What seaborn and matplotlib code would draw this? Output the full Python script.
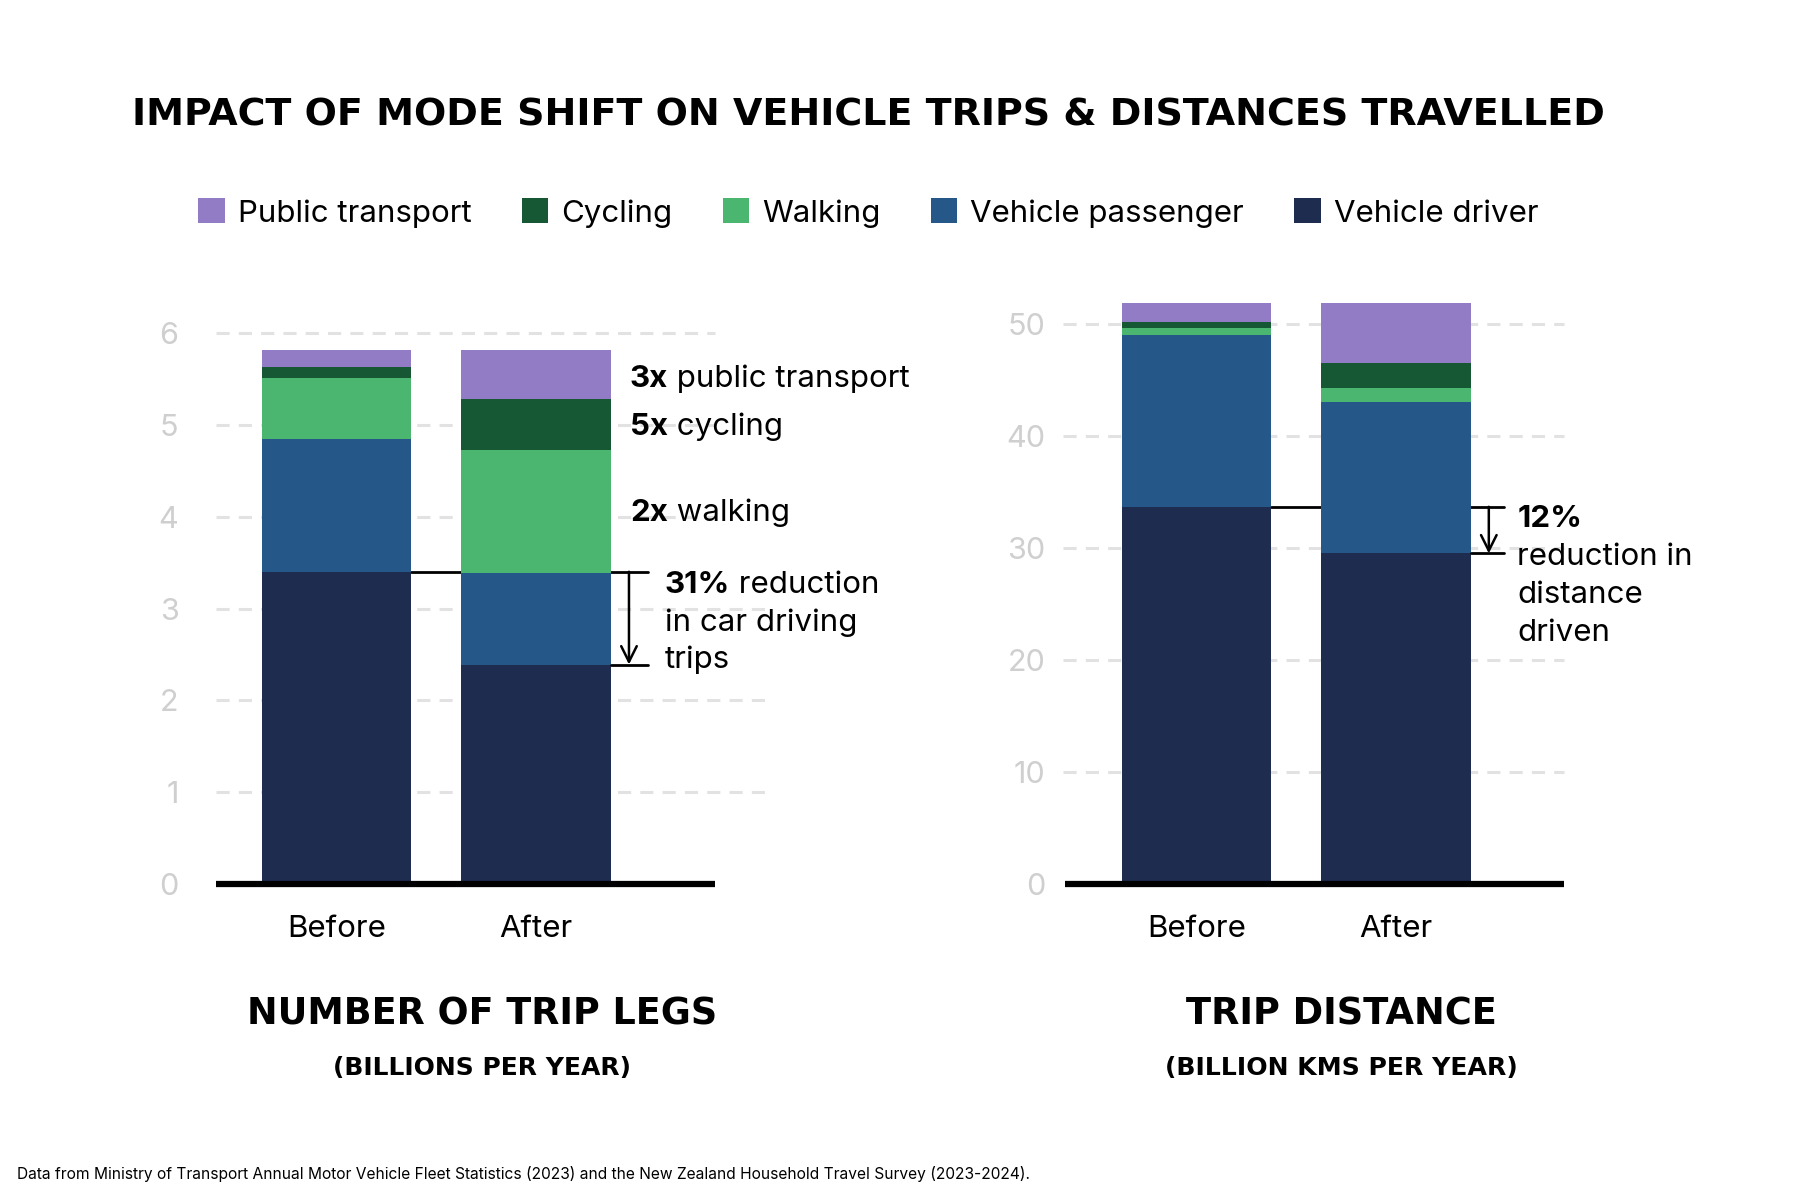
import matplotlib
matplotlib.use("Agg")
import matplotlib.pyplot as plt
import seaborn as sns
import numpy as np
import pandas as pd
from matplotlib.patches import Patch

# ---------------- data ----------------
periods = ["Before", "After"]
modes = ["Public transport", "Cycling", "Walking", "Vehicle passenger", "Vehicle driver"]
mode_colors = ["#927CC6", "#165834", "#4BB66F", "#255789", "#1E2C4F"]

# number of trip legs (billions per year)
trips_driver = [3.40, 2.39]
trips_passenger = [1.445, 1.00]
trips_walking = [0.67, 1.34]
trips_cycling = [0.11, 0.55]
trips_public = [0.185, 0.53]

# trip distance (billion kms per year)
dist_driver = [33.66, 29.5]
dist_passenger = [15.34, 13.55]
dist_walking = [0.65, 1.23]
dist_cycling = [0.49, 2.2]
dist_public = [1.71, 5.35]

left_ticks = [0, 1, 2, 3, 4, 5, 6]
right_ticks = [0, 10, 20, 30, 40, 50]

title_text = "IMPACT OF MODE SHIFT ON VEHICLE TRIPS & DISTANCES TRAVELLED"
left_title = "NUMBER OF TRIP LEGS"
left_sub = "(BILLIONS PER YEAR)"
right_title = "TRIP DISTANCE"
right_sub = "(BILLION KMS PER YEAR)"
footer = ("Data from Ministry of Transport Annual Motor Vehicle Fleet Statistics (2023) "
          "and the New Zealand Household Travel Survey (2023-2024).")

# ---------------- style ----------------
sns.set_theme(style="white")
plt.rcParams["font.family"] = ["Inter", "DejaVu Sans"]
plt.rcParams["axes.unicode_minus"] = False
plt.rcParams["text.color"] = "black"
plt.rcParams["axes.labelcolor"] = "black"

fig = plt.figure(figsize=(18, 12), dpi=100)
fig.patch.set_facecolor("white")

GRID_C = "#e2e2e2"
TICK_C = "#cfcfcf"
TXT = 22.5


def draw_stack(ax, layers_bottom_up, cols_bottom_up):
    cum = np.cumsum(np.array(layers_bottom_up, dtype=float), axis=0)
    for i in range(len(layers_bottom_up) - 1, -1, -1):
        df = pd.DataFrame({"period": periods, "value": cum[i]})
        sns.barplot(data=df, x="period", y="value", color=cols_bottom_up[i],
                    saturation=1, width=0.75, errorbar=None, ax=ax,
                    linewidth=0, edgecolor="none", zorder=2)


def style_axes(ax, ticks, ylim, xlim, pad_y):
    ax.set_xlim(*xlim)
    ax.set_ylim(*ylim)
    ax.set_yticks(ticks)
    ax.set_yticklabels([str(t) for t in ticks])
    for s in ax.spines.values():
        s.set_visible(False)
    ax.tick_params(axis="y", length=0, pad=pad_y, labelsize=22, labelcolor=TICK_C)
    ax.tick_params(axis="x", length=0, pad=22, labelsize=TXT, labelcolor="black")
    ax.set_xlabel("")
    ax.set_ylabel("")
    ax.grid(False)
    ax.set_facecolor("none")


def gridlines(ax, ys, x0, x1):
    ax.hlines(ys, x0, x1, colors=GRID_C, linewidth=2.2,
              linestyles=[(0, (4.3, 3.0))], zorder=1, clip_on=False)


def rich(ax, x, y, bold, rest):
    t = ax.text(x, y, bold, fontsize=TXT, fontweight="bold", ha="left",
                va="center", color="black", zorder=4)
    ax.annotate(rest, xy=(1, 0), xycoords=t, ha="left", va="bottom",
                fontsize=TXT, color="black", zorder=4)
    return t


# ---------------- left chart ----------------
axL = fig.add_axes([0.120, 1 - 884 / 1200, 0.277, (884 - 333) / 1200])
left_layers = [trips_driver, trips_passenger, trips_walking, trips_cycling, trips_public]
left_cols = mode_colors[::-1]
draw_stack(axL, left_layers, left_cols)
style_axes(axL, left_ticks, (0, 6), (-0.603, 1.895), 27)
gridlines(axL, [4, 5, 6], -0.603, 1.895)
gridlines(axL, [1, 2, 3], -0.603, 2.146)
axL.hlines(0, -0.603, 1.895, colors="black", linewidth=4.5, zorder=3, clip_on=False)

# reduction bracket
axL.plot([0.375, 1.563], [trips_driver[0]] * 2, color="black", lw=2, zorder=1.5,
         clip_on=False)
axL.plot([1.375, 1.563], [trips_driver[1]] * 2, color="black", lw=2, zorder=3,
         clip_on=False)
axL.annotate("", xy=(1.466, trips_driver[1]), xytext=(1.466, trips_driver[0]),
             arrowprops=dict(arrowstyle="->", lw=1.8, color="black",
                             mutation_scale=28, shrinkA=0, shrinkB=0),
             zorder=3, annotation_clip=False)

rich(axL, 1.471, 5.50, "3x", " public transport")
rich(axL, 1.471, 4.975, "5x", " cycling")
rich(axL, 1.471, 4.04, "2x", " walking")
rich(axL, 1.644, 3.26, "31%", " reduction")
axL.text(1.644, 2.85, "in car driving", fontsize=TXT, ha="left", va="center", zorder=4)
axL.text(1.644, 2.44, "trips", fontsize=TXT, ha="left", va="center", zorder=4)

# ---------------- right chart ----------------
axR = fig.add_axes([0.5917, 1 - 884 / 1200, 0.2772, (884 - 301.3) / 1200])
right_layers = [dist_driver, dist_passenger, dist_walking, dist_cycling, dist_public]
draw_stack(axR, right_layers, left_cols)
style_axes(axR, right_ticks, (0, 52), (-0.658, 1.843), 14)
gridlines(axR, [10, 20, 30, 40, 50], -0.67, 1.843)
axR.hlines(0, -0.658, 1.843, colors="black", linewidth=4.5, zorder=3, clip_on=False)

axR.plot([0.375, 1.540], [dist_driver[0]] * 2, color="black", lw=2, zorder=1.5,
         clip_on=False)
axR.plot([1.375, 1.540], [dist_driver[1]] * 2, color="black", lw=2, zorder=3,
         clip_on=False)
axR.annotate("", xy=(1.466, dist_driver[1]), xytext=(1.466, dist_driver[0]),
             arrowprops=dict(arrowstyle="->", lw=1.8, color="black",
                             mutation_scale=28, shrinkA=0, shrinkB=0),
             zorder=3, annotation_clip=False)
axR.text(1.609, 32.6, "12%", fontsize=TXT, fontweight="bold", ha="left", va="center")
axR.text(1.609, 29.2, "reduction in", fontsize=TXT, ha="left", va="center")
axR.text(1.609, 25.8, "distance", fontsize=TXT, ha="left", va="center")
axR.text(1.609, 22.4, "driven", fontsize=TXT, ha="left", va="center")

# ---------------- legend ----------------
handles = [Patch(facecolor=c, edgecolor="none") for c in mode_colors]
leg = fig.legend(handles, modes, loc="center", bbox_to_anchor=(0.4825, 1 - 213 / 1200),
                 ncol=5, frameon=False, fontsize=TXT, handlelength=0.85,
                 handleheight=0.85, handletextpad=0.42, columnspacing=1.6)
for txt in leg.get_texts():
    txt.set_color("black")

# ---------------- titles ----------------
HEAD = ["DejaVu Sans"]
t_main = fig.text(0.4825, 1 - 115 / 1200, title_text, ha="center", va="center",
                  fontsize=30, fontweight="bold", family=HEAD, color="black")
t_l1 = fig.text(482 / 1800, 1 - 1014 / 1200, left_title, ha="center", va="center",
                fontsize=26, fontweight="bold", family=HEAD, color="black")
t_l2 = fig.text(482 / 1800, 1 - 1068 / 1200, left_sub, ha="center", va="center",
                fontsize=18, fontweight="bold", family=HEAD, color="black")
t_r1 = fig.text(1341 / 1800, 1 - 1014 / 1200, right_title, ha="center", va="center",
                fontsize=26, fontweight="bold", family=HEAD, color="black")
t_r2 = fig.text(1341 / 1800, 1 - 1068 / 1200, right_sub, ha="center", va="center",
                fontsize=18, fontweight="bold", family=HEAD, color="black")
t_ft = fig.text(17 / 1800, 1 - 1174 / 1200, footer, ha="left", va="center",
                fontsize=11, color="black")

fig.canvas.draw()
renderer = fig.canvas.get_renderer()
for t, target in [(t_main, 1475), (t_l1, 471), (t_l2, 298), (t_r1, 312),
                  (t_r2, 352), (t_ft, 1008)]:
    w = t.get_window_extent(renderer).width
    t.set_fontsize(t.get_fontsize() * target / w)

fig.savefig("out.png", dpi=100, facecolor="white")
